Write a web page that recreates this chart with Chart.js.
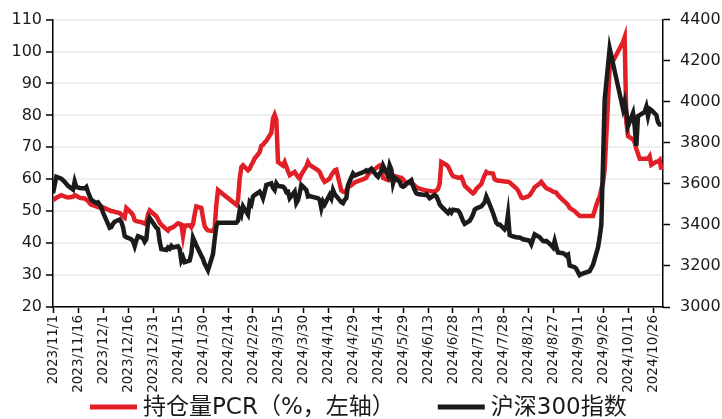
<!DOCTYPE html>
<html>
<head>
<meta charset="utf-8">
<script src="https://cdn.jsdelivr.net/npm/chart.js@4.4.0/dist/chart.umd.min.js"></script>
<style>
  html, body { margin: 0; padding: 0; background: #fff; }
</style>
</head>
<body>
<canvas id="myChart" width="722" height="419"></canvas>
<script>
// trading dates
const dates = [
  "2023/11/1","2023/11/3","2023/11/6","2023/11/8","2023/11/9","2023/11/10","2023/11/13","2023/11/14","2023/11/15","2023/11/17","2023/11/20","2023/11/21","2023/11/22","2023/11/23","2023/11/24","2023/11/27","2023/11/28","2023/11/29","2023/11/30",
  "2023/12/1","2023/12/4","2023/12/5","2023/12/6","2023/12/7","2023/12/8","2023/12/11","2023/12/12","2023/12/13","2023/12/14","2023/12/15","2023/12/18","2023/12/19","2023/12/20","2023/12/21","2023/12/22","2023/12/25","2023/12/26","2023/12/27","2023/12/28","2023/12/29",
  "2024/1/2","2024/1/3","2024/1/4","2024/1/5","2024/1/8","2024/1/9","2024/1/10","2024/1/11","2024/1/12","2024/1/15","2024/1/16","2024/1/17","2024/1/18","2024/1/19","2024/1/22","2024/1/23","2024/1/24","2024/1/25","2024/1/26","2024/1/29","2024/1/30","2024/1/31",
  "2024/2/1","2024/2/2","2024/2/5","2024/2/6","2024/2/7","2024/2/8","2024/2/19","2024/2/20","2024/2/21","2024/2/22","2024/2/23","2024/2/26","2024/2/27","2024/2/28","2024/2/29",
  "2024/3/1","2024/3/4","2024/3/5","2024/3/6","2024/3/7","2024/3/8","2024/3/11","2024/3/12","2024/3/13","2024/3/14","2024/3/15","2024/3/18","2024/3/19","2024/3/20","2024/3/21","2024/3/22","2024/3/25","2024/3/26","2024/3/27","2024/3/28","2024/3/29",
  "2024/4/1","2024/4/2","2024/4/3","2024/4/8","2024/4/9","2024/4/10","2024/4/11","2024/4/12","2024/4/15","2024/4/16","2024/4/17","2024/4/18","2024/4/19","2024/4/22","2024/4/23","2024/4/24","2024/4/25","2024/4/26","2024/4/29","2024/4/30",
  "2024/5/6","2024/5/7","2024/5/8","2024/5/9","2024/5/10","2024/5/13","2024/5/14","2024/5/15","2024/5/16","2024/5/17","2024/5/20","2024/5/21","2024/5/22","2024/5/23","2024/5/24","2024/5/27","2024/5/28","2024/5/29","2024/5/30","2024/5/31",
  "2024/6/3","2024/6/4","2024/6/5","2024/6/6","2024/6/7","2024/6/11","2024/6/12","2024/6/13","2024/6/14","2024/6/17","2024/6/18","2024/6/19","2024/6/20","2024/6/21","2024/6/24","2024/6/25","2024/6/26","2024/6/27","2024/6/28",
  "2024/7/1","2024/7/2","2024/7/3","2024/7/4","2024/7/5","2024/7/8","2024/7/9","2024/7/10","2024/7/11","2024/7/12","2024/7/15","2024/7/16","2024/7/17","2024/7/18","2024/7/19","2024/7/22","2024/7/23","2024/7/24","2024/7/25","2024/7/26","2024/7/29","2024/7/30","2024/7/31",
  "2024/8/1","2024/8/2","2024/8/5","2024/8/6","2024/8/7","2024/8/8","2024/8/9","2024/8/12","2024/8/13","2024/8/14","2024/8/15","2024/8/16","2024/8/19","2024/8/20","2024/8/21","2024/8/22","2024/8/23","2024/8/26","2024/8/27","2024/8/28","2024/8/29","2024/8/30",
  "2024/9/2","2024/9/3","2024/9/4","2024/9/5","2024/9/6","2024/9/9","2024/9/10","2024/9/11","2024/9/12","2024/9/13","2024/9/18","2024/9/19","2024/9/20","2024/9/23","2024/9/24","2024/9/25","2024/9/26","2024/9/27","2024/9/30",
  "2024/10/8","2024/10/9","2024/10/10","2024/10/11","2024/10/14","2024/10/15","2024/10/16","2024/10/17","2024/10/18","2024/10/21","2024/10/22","2024/10/23","2024/10/24","2024/10/25","2024/10/28","2024/10/29","2024/10/30","2024/10/31"
];

// 持仓量PCR (%), left axis
const pcr = [
  53.5,54.2,55.0,54.6,54.4,54.3,54.5,55.0,54.8,54.2,54.0,53.6,53.2,52.5,52.0,51.5,51.3,51.2,51.5,
  51.2,50.5,50.3,50.0,50.0,49.8,49.4,48.9,48.4,48.0,51.0,49.5,48.8,47.2,46.9,46.8,46.4,46.1,46.5,49.0,50.2,
  48.4,47.5,46.4,45.8,44.3,43.9,44.6,44.8,45.0,46.2,46.0,45.8,42.3,45.5,45.6,45.0,46.0,49.0,51.5,51.0,48.0,45.3,
  44.5,44.0,43.8,44.8,52.0,56.6,52.0,53.5,60.0,63.8,64.4,62.8,63.3,64.5,65.4,
  66.5,68.5,70.5,70.8,71.5,72.0,74.6,79.0,80.2,78.7,65.4,64.3,65.4,64.0,62.5,61.3,62.3,61.5,60.7,60.2,61.5,
  64.0,65.4,64.5,62.8,62.3,61.0,60.0,59.2,60.2,61.3,62.0,62.8,63.0,56.5,56.1,56.0,56.5,57.5,58.5,59.0,
  60.2,60.5,61.5,62.0,62.5,63.5,64.0,64.3,63.5,60.5,59.7,59.8,60.0,60.5,61.0,60.5,60.5,60.0,59.2,59.0,
  58.7,58.5,58.0,57.5,57.2,56.6,56.5,56.4,56.3,56.1,56.5,57.0,58.5,65.4,64.5,64.0,63.0,61.8,61.0,
  60.5,60.5,60.7,59.5,58.0,56.5,56.0,55.6,56.0,57.0,58.5,60.0,61.3,62.3,62.0,61.8,60.0,59.7,59.5,59.5,59.3,59.2,59.2,
  59.0,58.5,57.2,56.5,55.5,54.3,54.1,54.6,55.0,55.8,56.6,57.5,58.7,59.2,58.5,57.8,57.2,56.5,56.1,56.0,55.8,55.0,
  53.5,53.0,52.5,52.0,51.0,50.0,49.5,49.0,48.5,48.5,48.5,48.5,48.5,53.5,54.5,57.0,59.0,63.0,95.0,
  103.0,104.5,78.0,73.5,72.5,71.5,69.5,68.0,66.4,66.4,66.4,66.4,67.2,64.5,65.5,65.5,66.0,63.0
];

// 沪深300指数, right axis
const hs300 = [
  3554,3634,3625,3610,3600,3590,3572,3612,3585,3580,3578,3585,3560,3540,3522,3506,3510,3498,3485,
  3460,3405,3386,3390,3405,3415,3426,3415,3390,3346,3340,3330,3320,3296,3325,3345,3335,3318,3330,3410,3434,
  3386,3380,3320,3282,3278,3290,3284,3298,3290,3296,3282,3226,3242,3218,3226,3260,3338,3320,3300,3250,3234,3210,
  3195,3179,3258,3330,3394,3410,3410,3420,3470,3450,3490,3450,3510,3500,3538,
  3545,3562,3550,3530,3560,3594,3602,3580,3570,3602,3590,3586,3578,3560,3562,3530,3562,3506,3520,3554,3594,
  3570,3538,3540,3530,3522,3482,3514,3500,3546,3530,3570,3550,3540,3510,3506,3522,3530,3594,3650,3640,
  3660,3666,3660,3668,3674,3642,3634,3650,3660,3690,3640,3690,3670,3602,3630,3610,3590,3586,3590,3600,
  3618,3590,3570,3554,3550,3546,3550,3540,3530,3546,3540,3522,3500,3490,3466,3458,3470,3460,3474,
  3470,3460,3440,3420,3405,3420,3434,3450,3474,3480,3490,3500,3510,3538,3520,3458,3434,3410,3402,3402,3378,3390,3450,
  3350,3346,3340,3338,3338,3335,3330,3325,3322,3306,3330,3354,3340,3330,3322,3320,3322,3300,3290,3322,3290,3266,
  3262,3258,3250,3255,3202,3194,3186,3170,3155,3160,3175,3190,3205,3290,3340,3400,3700,4010,4260,
  3965,4000,3950,3880,3945,3880,3785,3930,3935,3950,3975,3930,3965,3960,3935,3900,3889,3889
];

const xTickLabels = ["2023/11/1","2023/11/16","2023/12/1","2023/12/16","2023/12/31","2024/1/15","2024/1/30","2024/2/14","2024/2/29","2024/3/15","2024/3/30","2024/4/14","2024/4/29","2024/5/14","2024/5/29","2024/6/13","2024/6/28","2024/7/13","2024/7/28","2024/8/12","2024/8/27","2024/9/11","2024/9/26","2024/10/11","2024/10/26"];
const xStart = "2023/11/1";
const xEnd = "2024/11/1";

function dayOf(s) {
  const p = s.split("/").map(Number);
  const p0 = xStart.split("/").map(Number);
  return Math.round((Date.UTC(p[0], p[1] - 1, p[2]) - Date.UTC(p0[0], p0[1] - 1, p0[2])) / 86400000);
}

const labelByDay = {};
xTickLabels.forEach((l) => { labelByDay[dayOf(l)] = l; });

const font = '"DejaVu Sans", "Noto Sans CJK SC", sans-serif';
const ink = "#1a1a1a";

// legend drawn under the x labels, line sample + text for each dataset
const bottomLegend = {
  id: "bottomLegend",
  afterDraw(chart) {
    const c = chart.ctx;
    c.save();
    c.font = "23px " + font;
    c.textBaseline = "middle";
    let x = 90;
    const y = 408;
    chart.data.datasets.forEach((ds) => {
      c.fillStyle = ds.borderColor;
      c.fillRect(x, y - 3.5, 47, 5);
      x += 53;
      c.fillStyle = ink;
      c.fillText(ds.label, x, y);
      x += c.measureText(ds.label).width + 43;
    });
    c.restore();
  },
};

const ctx = document.getElementById("myChart");
new Chart(ctx, {
  type: "line",
  data: {
    datasets: [
      {
        label: "持仓量PCR（%，左轴）",
        data: dates.map((d, i) => ({ x: dayOf(d), y: pcr[i] })),
        yAxisID: "y",
        borderColor: "rgb(224,32,38)",
        backgroundColor: "rgb(224,32,38)",
        borderWidth: 4.5,
        pointRadius: 0,
        tension: 0,
        order: 1,
      },
      {
        label: "沪深300指数",
        data: dates.map((d, i) => ({ x: dayOf(d), y: hs300[i] })),
        yAxisID: "y1",
        borderColor: "#1b1b1b",
        backgroundColor: "#1b1b1b",
        borderWidth: 4.5,
        pointRadius: 0,
        tension: 0,
        order: 0,
      },
    ],
  },
  options: {
    responsive: false,
    animation: false,
    devicePixelRatio: 1,
    layout: { padding: { top: 16, left: 0, right: 0, bottom: 0 } },
    plugins: {
      tooltip: { enabled: false },
      legend: { display: false },
    },
    scales: {
      x: {
        type: "linear",
        min: 0,
        max: dayOf(xEnd),
        afterBuildTicks: (s) => {
          s.ticks = xTickLabels.map((l) => ({ value: dayOf(l) }));
        },
        afterFit: (s) => { s.height = 112; },
        ticks: {
          autoSkip: false,
          minRotation: 90,
          maxRotation: 90,
          padding: 2,
          color: ink,
          font: { family: font, size: 13.5 },
          callback: (v) => labelByDay[v] || "",
        },
        grid: { drawOnChartArea: false, tickLength: 6, tickColor: "#000", tickWidth: 1.5 },
        border: { color: "#000", width: 1.5 },
      },
      y: {
        position: "left",
        min: 20,
        max: 110,
        afterFit: (s) => { s.width = 53; },
        ticks: { stepSize: 10, padding: 4, color: ink, font: { family: font, size: 16 } },
        grid: { color: "#eeeeee", lineWidth: 2, tickLength: 7, tickColor: "#000", tickWidth: 1.5 },
        border: { color: "#000", width: 1.5 },
      },
      y1: {
        position: "right",
        min: 3000,
        max: 4400,
        afterFit: (s) => { s.width = 59; },
        ticks: {
          stepSize: 200,
          padding: 10,
          color: ink,
          font: { family: font, size: 16 },
          callback: (v) => String(v),
        },
        grid: { drawOnChartArea: false, tickLength: 7, tickColor: "#000", tickWidth: 1.5 },
        border: { color: "#000", width: 1.5 },
      },
    },
  },
  plugins: [bottomLegend],
});
</script>
</body>
</html>
